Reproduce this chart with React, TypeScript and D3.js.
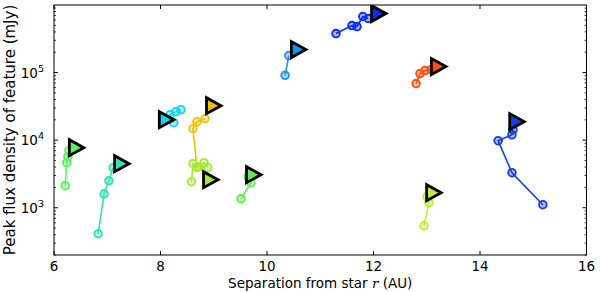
import React from "react";
import * as d3 from "d3";

// Each track: separation (AU) and peak flux (mJy) for circles; final triangle marker separately
const trackNames = ["A", "B", "C", "D", "E", "F", "G", "H", "I", "J", "K"];
const trackSep: number[][] = [
  [6.21, 6.24, 6.26, 6.28],
  [6.83, 6.94, 7.03, 7.11],
  [8.385, 8.29, 8.18, 8.25],
  [8.685, 8.61, 8.685, 8.835],
  [8.582, 8.61, 8.72, 8.817, 8.89],
  [9.512, 9.70, 9.643],
  [10.34, 10.41],
  [11.296, 11.596, 11.69, 11.80, 11.90],
  [12.80, 12.873, 12.967, 13.08],
  [12.948, 13.04, 13.005],
  [15.18, 14.60, 14.34, 14.60, 14.62],
];
const trackFlux: number[][] = [
  [2120, 4640, 5700, 6980],
  [412, 1610, 2510, 3910],
  [28300, 26400, 23900, 18100],
  [3920, 14800, 18800, 20800],
  [2430, 4490, 4050, 4640, 3920],
  [1360, 2340, 2880],
  [91200, 178700],
  [378000, 497000, 480000, 676000, 631000],
  [68700, 96600, 107000, 111000],
  [541, 1190, 1460],
  [1110, 3300, 9840, 12000, 14300],
];
const triSep = [6.41, 7.26, 8.1, 8.986, 8.93, 9.737, 10.58, 12.085, 13.21, 13.12, 14.68];
const triFlux = [7740, 4490, 20100, 32400, 2600, 3080, 219000, 748000, 123000, 1670, 18800];
const trackColors = [
  "#5ef25e", "#2de3b7", "#1ed0f0", "#e8c40c", "#a2ea40", "#66ea5a",
  "#1a92ee", "#0a2ef0", "#ff5014", "#c0ee30", "#1840e0",
];

const xTicks = [6, 8, 10, 12, 14, 16];
const yTicks = [1e3, 1e4, 1e5];
const xDomain = [6, 16];
const yDomain = [200, 1e6];

const W = 600, H = 292;
const L = 54, R = 586.5, T = 5, B = 255;
const FONT = "DejaVu Sans";

export default function App() {
  const x = d3.scaleLinear().domain(xDomain).range([L, R]);
  const y = d3.scaleLog().domain(yDomain).range([B, T]);
  const line = d3.line<[number, number]>().x((d) => x(d[0])).y((d) => y(d[1]));

  const minor: number[] = [];
  for (let e = 2; e <= 5; e++) {
    for (let m = 2; m <= 9; m++) {
      const v = m * Math.pow(10, e);
      if (v >= yDomain[0] && v <= yDomain[1]) minor.push(v);
    }
  }

  return (
    <svg width={W} height={H} style={{ position: "absolute", left: 0, top: 0, background: "#fff" }}>
      <defs>
        <clipPath id="clip">
          <rect x={L} y={T} width={R - L} height={B - T} />
        </clipPath>
      </defs>
      <g clipPath="url(#clip)">
        {trackNames.map((n, i) => {
          const pts: [number, number][] = trackSep[i].map((s, j) => [s, trackFlux[i][j]]);
          const c = trackColors[i];
          return (
            <g key={n}>
              <path d={line(pts) || ""} fill="none" stroke={c} strokeWidth={1.6} />
              {pts.map((p, j) => (
                <circle key={j} cx={x(p[0])} cy={y(p[1])} r={3.8} fill={c} fillOpacity={0.35} stroke={c} strokeWidth={1.9} />
              ))}
              <path
                d="M-6.5,-8L-6.5,8L8,0Z"
                transform={`translate(${x(triSep[i])},${y(triFlux[i])})`}
                fill={c}
                stroke="#000"
                strokeWidth={2.8}
                strokeLinejoin="miter"
              />
            </g>
          );
        })}
      </g>
      {/* frame */}
      <rect x={L} y={T} width={R - L} height={B - T} fill="none" stroke="#000" strokeWidth={1} />
      {/* x ticks */}
      {xTicks.map((t) => (
        <g key={t}>
          <line x1={x(t)} x2={x(t)} y1={B} y2={B - 4} stroke="#000" />
          <line x1={x(t)} x2={x(t)} y1={T} y2={T + 4} stroke="#000" />
          <text x={x(t)} y={270.5} textAnchor="middle" fontFamily={FONT} fontSize={13.5}>{t}</text>
        </g>
      ))}
      {/* y major ticks */}
      {yTicks.map((t) => (
        <g key={t}>
          <line x1={L} x2={L + 4} y1={y(t)} y2={y(t)} stroke="#000" />
          <line x1={R} x2={R - 4} y1={y(t)} y2={y(t)} stroke="#000" />
          <text x={44} y={y(t) + 5} textAnchor="end" fontFamily={FONT} fontSize={13.5}>
            10<tspan dy={-6} fontSize={9.5}>{Math.round(Math.log10(t))}</tspan>
          </text>
        </g>
      ))}
      {minor.map((t) => (
        <g key={"m" + t}>
          <line x1={L} x2={L + 2} y1={y(t)} y2={y(t)} stroke="#000" strokeWidth={0.8} />
          <line x1={R} x2={R - 2} y1={y(t)} y2={y(t)} stroke="#000" strokeWidth={0.8} />
        </g>
      ))}
      <text x={(L + R) / 2} y={287.5} textAnchor="middle" fontFamily={FONT} fontSize={13.5}>
        Separation from star <tspan fontFamily="DejaVu Serif" fontStyle="italic">r</tspan> (AU)
      </text>
      <text transform={`translate(15,${(T + B) / 2}) rotate(-90)`} textAnchor="middle" fontFamily={FONT} fontSize={15}>
        Peak flux density of feature (mJy)
      </text>
    </svg>
  );
}
